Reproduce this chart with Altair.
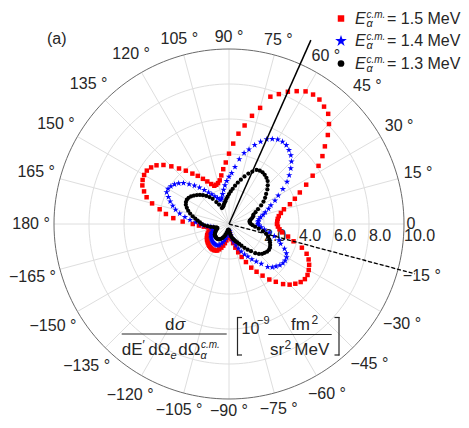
import altair as alt
import pandas as pd

# ---------------- data ----------------
ANGLES = list(range(-180, 180, 3))  # degrees, -180 ... 177

R_15 = [2.07, 1.72, 1.45, 1.22, 1.05, 1.05, 1.15, 1.25, 1.33, 1.40,
        1.45, 1.50, 1.55, 1.58, 1.62, 1.65, 1.68, 1.70, 1.72, 1.73,
        1.72, 1.70, 1.66, 1.55, 1.42, 1.28, 1.12, 0.95, 0.78, 0.62,
        0.52, 0.55, 0.68, 0.88, 1.12, 1.40, 1.70, 2.02, 2.38, 2.80,
        3.15, 3.52, 3.92, 4.25, 4.62, 4.90, 5.10, 5.27, 5.36, 5.35,
        5.26, 5.14, 4.98, 4.75, 4.38, 3.82, 3.45, 3.07, 2.90, 2.80,
        2.74, 2.76, 2.80, 2.88, 3.03, 3.25, 3.66, 4.03, 4.43, 4.95,
        5.52, 6.10, 6.60, 7.05, 7.60, 8.08, 8.47, 8.63, 8.79, 8.82,
        8.75, 8.52, 8.27, 7.95, 7.65, 6.87, 6.32, 5.70, 5.19, 4.60,
        4.02, 3.52, 3.15, 2.81, 2.55, 2.42, 2.36, 2.34, 2.50, 2.73,
        2.98, 3.28, 3.56, 3.92, 4.27, 4.66, 5.04, 5.33, 5.50, 5.60,
        5.60, 5.54, 5.42, 5.20, 4.95, 4.55, 4.05, 3.65, 3.20, 2.65]

R_14 = [1.62, 1.45, 1.25, 1.05, 0.92, 0.90, 0.95, 1.02, 1.08, 1.13,
        1.18, 1.22, 1.26, 1.30, 1.33, 1.36, 1.38, 1.40, 1.42, 1.42,
        1.40, 1.36, 1.30, 1.20, 1.08, 0.95, 0.80, 0.65, 0.52, 0.42,
        0.38, 0.42, 0.52, 0.66, 0.85, 1.05, 1.28, 1.50, 1.72, 1.95,
        2.15, 2.40, 2.65, 2.93, 3.30, 3.50, 3.62, 3.74, 3.81, 3.83,
        3.80, 3.68, 3.47, 3.16, 3.00, 2.68, 2.35, 2.05, 1.85, 1.72,
        1.66, 1.66, 1.68, 1.73, 1.85, 2.02, 2.18, 2.42, 2.62, 2.95,
        3.25, 3.67, 4.10, 4.43, 4.75, 5.05, 5.28, 5.44, 5.57, 5.61,
        5.57, 5.45, 5.30, 5.04, 4.75, 4.41, 4.15, 3.75, 3.28, 2.92,
        2.70, 2.46, 2.22, 1.98, 1.75, 1.57, 1.46, 1.48, 1.62, 1.78,
        1.96, 2.15, 2.40, 2.68, 2.95, 3.22, 3.50, 3.70, 3.85, 3.96,
        4.02, 4.00, 3.79, 3.60, 3.38, 3.16, 2.88, 2.55, 2.24, 1.90]

R_13 = [1.55, 1.40, 1.22, 1.05, 0.88, 0.75, 0.70, 0.72, 0.78, 0.84,
        0.90, 0.95, 1.00, 1.03, 1.05, 1.07, 1.08, 1.08, 1.07, 1.04,
        1.00, 0.93, 0.85, 0.75, 0.64, 0.52, 0.42, 0.35, 0.32, 0.33,
        0.38, 0.46, 0.56, 0.67, 0.78, 0.88, 0.95, 1.05, 1.15, 1.28,
        1.43, 1.62, 1.81, 2.00, 2.24, 2.42, 2.55, 2.62, 2.69, 2.72,
        2.70, 2.64, 2.56, 2.47, 2.35, 2.20, 1.98, 1.72, 1.50, 1.35,
        1.25, 1.20, 1.18, 1.20, 1.28, 1.38, 1.45, 1.50, 1.66, 1.86,
        2.12, 2.35, 2.55, 2.73, 2.95, 3.13, 3.30, 3.40, 3.47, 3.52,
        3.52, 3.47, 3.28, 3.09, 2.86, 2.62, 2.42, 2.22, 2.02, 1.86,
        1.71, 1.56, 1.45, 1.32, 1.22, 1.14, 1.07, 1.02, 1.00, 1.25,
        1.45, 1.72, 1.90, 2.06, 2.22, 2.35, 2.47, 2.58, 2.68, 2.75,
        2.78, 2.76, 2.70, 2.58, 2.45, 2.30, 2.12, 1.95, 1.80, 1.66]

SERIES = ["1.5", "1.4", "1.3"]
SERIES_COLORS = ["#ff0000", "#0000ff", "#000000"]

GRID_R = [2, 4, 6, 8]
OUTER_R = 10
SPOKE_ANGLES = list(range(0, 360, 15))
ANGLE_LABELS = ["0", "15 °", "30 °", "45 °", "60 °", "75 °", "90 °", "105 °",
                "120 °", "135 °", "150 °", "165 °", "180 °", "−165 °", "−150 °",
                "−135 °", "−120 °", "−105 °", "−90 °", "−75 °", "−60 °", "−45 °",
                "−30 °", "−15 °"]
RADIAL_TICKS = [2, 4, 6, 8, 10]
RADIAL_LABELS = ["2.0", "4.0", "6.0", "8.0", "10.0"]
GUIDE_ANGLE = [66, -15]
GUIDE_LEN = [11.5, 11.0]

# ---------------- layout ----------------
W, H = 453, 412
S = 17.5           # px per radial unit
CX, CY = 221, 216  # pole position inside plot area
FONT = "Liberation Sans"
TC = "#262626"

xs = alt.Scale(domain=[-CX / S, (W - CX) / S], nice=False, zero=False)
ys = alt.Scale(domain=[-(H - CY) / S, CY / S], nice=False, zero=False)
X = lambda f: alt.X(f, type="quantitative", scale=xs, axis=None)
Y = lambda f: alt.Y(f, type="quantitative", scale=ys, axis=None)
X2 = lambda f: alt.X2(f)
Y2 = lambda f: alt.Y2(f)

polar_xy = dict(x="datum.r*cos(datum.a*PI/180)", y="datum.r*sin(datum.a*PI/180)")

# grid circles
circ_rows = []
for rr in GRID_R + [OUTER_R]:
    for a in range(0, 362, 2):
        circ_rows.append({"r": rr, "a": a})
circ_df = pd.DataFrame(circ_rows)

inner_circles = alt.Chart(circ_df).transform_filter(f"datum.r < {OUTER_R}").transform_calculate(
    **polar_xy).mark_line(color="#dedede", strokeWidth=1).encode(
    x=X("x"), y=Y("y"), detail="r:N", order="a:Q")
outer_circle = alt.Chart(circ_df).transform_filter(f"datum.r == {OUTER_R}").transform_calculate(
    **polar_xy).mark_line(color="#6a6a6a", strokeWidth=1).encode(
    x=X("x"), y=Y("y"), order="a:Q")

spoke_df = pd.DataFrame({"a": SPOKE_ANGLES, "r": OUTER_R})
spokes = alt.Chart(spoke_df).transform_calculate(
    **polar_xy, x0="0", y0="0").mark_rule(color="#dedede", strokeWidth=1).encode(
    x=X("x0"), y=Y("y0"), x2=X2("x"), y2=Y2("y"))

lab_df = pd.DataFrame({"a": SPOKE_ANGLES, "label": ANGLE_LABELS})
angle_labels = alt.Chart(lab_df).transform_calculate(
    c="cos(datum.a*PI/180)", s="sin(datum.a*PI/180)").transform_calculate(
    d=f"{OUTER_R} + (3 + length(datum.label)*4.0*abs(datum.c) + 9*abs(datum.s))/{S}").transform_calculate(
    x="datum.d*datum.c", y="datum.d*datum.s").mark_text(
    font=FONT, fontSize=16, color=TC, align="center", baseline="middle").encode(
    x=X("x"), y=Y("y"), text="label:N")

rad_df = pd.DataFrame({"r": RADIAL_TICKS, "label": RADIAL_LABELS, "zero": 0})
radial_labels = alt.Chart(rad_df).mark_text(
    font=FONT, fontSize=16, color=TC, align="left", baseline="top", dy=4).encode(
    x=X("r"), y=Y("zero"), text="label:N")

# data series
rows = []
for name, vals in zip(SERIES, [R_15, R_14, R_13]):
    for a, r in zip(ANGLES, vals):
        rows.append({"series": name, "a": a, "r": r})
data_df = pd.DataFrame(rows)

STAR = ("M0,-1L0.2245,-0.309L0.951,-0.309L0.363,0.118L0.588,0.809L0,0.382"
        "L-0.588,0.809L-0.363,0.118L-0.951,-0.309L-0.2245,-0.309Z")

def series_layer(name, color, shape, size):
    return alt.Chart(data_df).transform_filter(f"datum.series == '{name}'").transform_calculate(
        **polar_xy).mark_point(shape=shape, filled=True, color=color, size=size, opacity=1,
                                strokeWidth=0).encode(x=X("x"), y=Y("y"))

red = series_layer("1.5", SERIES_COLORS[0], "square", 20)
blue = series_layer("1.4", SERIES_COLORS[1], STAR, 44)
black = series_layer("1.3", SERIES_COLORS[2], "circle", 18)

guide_df = pd.DataFrame({"a": GUIDE_ANGLE, "r": GUIDE_LEN, "kind": ["solid", "dashed"]})
solid = alt.Chart(guide_df).transform_filter("datum.kind == 'solid'").transform_calculate(
    **polar_xy, x0="0", y0="0").mark_rule(color="black", strokeWidth=1.5).encode(
    x=X("x0"), y=Y("y0"), x2=X2("x"), y2=Y2("y"))
dashed = alt.Chart(guide_df).transform_filter("datum.kind == 'dashed'").transform_calculate(
    **polar_xy, x0="0", y0="0").mark_rule(color="black", strokeWidth=1.3, strokeDash=[4, 2]).encode(
    x=X("x0"), y=Y("y0"), x2=X2("x"), y2=Y2("y"))

# ---------------- annotations ----------------
ONE = pd.DataFrame({"k": [0]})
M = 8  # page margin

def txt(text, x, y, size=17, italic=False, align="left", baseline="alphabetic"):
    return alt.Chart(ONE).mark_text(
        text=text, font=FONT, fontSize=size, fontStyle="italic" if italic else "normal",
        align=align, baseline=baseline, color=TC).encode(
        x=alt.value(x - M), y=alt.value(y - M))

def hline(x1, x2, y, w=1.2):
    return alt.Chart(ONE).mark_rule(color=TC, strokeWidth=w).encode(
        x=alt.value(x1 - M), x2=alt.value(x2 - M), y=alt.value(y - M))

def vline(x, y1, y2, w=1.2):
    return alt.Chart(ONE).mark_rule(color=TC, strokeWidth=w).encode(
        x=alt.value(x - M), y=alt.value(y1 - M), y2=alt.value(y2 - M))

ann = [txt("(a)", 47, 44, size=16)]

# legend
leg_shapes = [("square", 42), (STAR, 150), ("circle", 45)]
for k, (name, color, (shape, size)) in enumerate(zip(SERIES, SERIES_COLORS, leg_shapes)):
    yb = 23.5 + 22.5 * k
    ann.append(alt.Chart(ONE).mark_point(shape=shape, filled=True, color=color, size=size,
                                         opacity=1, strokeWidth=0).encode(
        x=alt.value(341 - M), y=alt.value(yb - 5 - M)))
    ann.append(txt("E", 355, yb, size=16, italic=True))
    ann.append(txt("c.m.", 366.5, yb - 6, size=10, italic=True))
    ann.append(txt("α", 366.5, yb + 3, size=11, italic=True))
    ann.append(txt(f"= {name} MeV", 387, yb, size=16))

# formula
ann += [
    txt("d", 165, 330), txt("σ", 175, 330, italic=True),
    hline(121.7, 226.7, 334),
    txt("dE", 121.7, 355), txt("′", 142.5, 349, size=12),
    txt("dΩ", 148.3, 355), txt("e", 170.5, 359, size=11, italic=True),
    txt("dΩ", 178.3, 355), txt("α", 200.5, 358.5, size=11, italic=True),
    txt("c.m.", 201, 347.5, size=10, italic=True),
    vline(237.5, 317, 355.5), hline(237, 242, 317.5), hline(237, 242, 355),
    txt("10", 241.5, 334, size=16), txt("−9", 257, 324, size=11),
    txt("fm", 300.5, 330, align="center"), txt("2", 311.5, 323.5, size=12),
    hline(268.3, 331.7, 334.5),
    txt("sr", 270, 355), txt("2", 284.5, 348.5, size=12), txt("MeV", 294.3, 355),
    vline(339, 317, 355.5), hline(334.5, 339.5, 317.5), hline(334.5, 339.5, 355),
]

chart = alt.layer(
    inner_circles, spokes, outer_circle, angle_labels, radial_labels,
    red, blue, black, solid, dashed, *ann
).properties(
    width=W, height=H, autosize=alt.AutoSizeParams(type="none"), padding=0
).configure_view(stroke=None)

chart.save("out.html", embed_options={"renderer": "svg", "actions": False})
